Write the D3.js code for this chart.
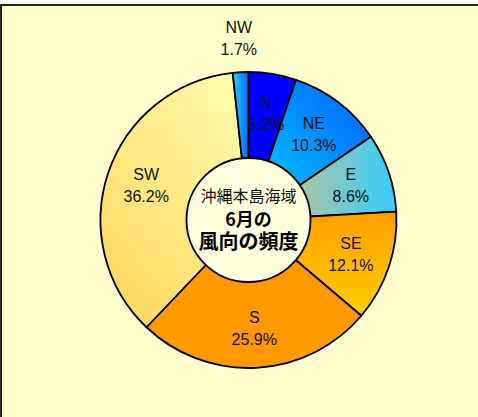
<!DOCTYPE html>
<html><head><meta charset="utf-8">
<script src="https://cdn.jsdelivr.net/npm/d3@7"></script>
<style>html,body{margin:0;padding:0;background:#fff;}svg{display:block;}</style>
</head><body>
<svg id="chart" width="478" height="417"></svg>
<script>
const categories = ["N", "NE", "E", "SE", "S", "SW", "NW"];
const values = [5.2, 10.3, 8.6, 12.1, 25.9, 36.2, 1.7];
const titleLines = ["沖縄本島海域", "6月の", "風向の頻度"];
// gradient stops per slice: [from, to]
const fillStops = [
  ["#0000FF", "#0000FF"],
  ["#00CCFF", "#0066FF"],
  ["#EAC274", "#33CCFF"],
  ["#FFA000", "#FFCC00"],
  ["#FF9900", "#FF9900"],
  ["#FFFBAA", "#FFD45C"],
  ["#33CCFF", "#0066FF"]
];
const gradDirs = [
  [0,0,1,0],
  [0.1,0.9,0.9,0.1],
  [0,0,1,0],
  [0,0,0,1],
  [0,0,1,0],
  [0.8,0,0.1,1],
  [0,0,1,0]
];

const svg = d3.select("#chart");
const W = 478, H = 417;
const cx = 248.5, cy = 220, R = 148, r0 = 62;

// frame
svg.append("rect").attr("x", 1).attr("y", 5).attr("width", W + 20).attr("height", H + 20)
  .attr("fill", "#FFFFCC").attr("stroke", "#222").attr("stroke-width", 2);

const defs = svg.append("defs");
categories.forEach((c, i) => {
  const g = defs.append("linearGradient").attr("id", "g" + i)
    .attr("x1", gradDirs[i][0]).attr("y1", gradDirs[i][1])
    .attr("x2", gradDirs[i][2]).attr("y2", gradDirs[i][3]);
  g.append("stop").attr("offset", "0%").attr("stop-color", fillStops[i][0]);
  g.append("stop").attr("offset", "100%").attr("stop-color", fillStops[i][1]);
});

const pie = d3.pie().sort(null).value(d => d).startAngle(0).endAngle(2 * Math.PI);
const arcs = pie(values);
const arc = d3.arc().innerRadius(0).outerRadius(R);
const labelArc = d3.arc().innerRadius(108).outerRadius(108);
const outerLabelArc = d3.arc().innerRadius(182).outerRadius(182);

const gp = svg.append("g").attr("transform", `translate(${cx},${cy})`);
gp.selectAll("path.slice").data(arcs).join("path")
  .attr("class", "slice")
  .attr("d", arc)
  .attr("fill", (d, i) => `url(#g${i})`)
  .attr("stroke", "#000").attr("stroke-width", 1.8).attr("stroke-linejoin", "round");

gp.append("circle").attr("r", r0).attr("fill", "#FFFFDD").attr("stroke", "#000").attr("stroke-width", 1.8);

const fontLatin = "'Liberation Sans', Arial, sans-serif";
arcs.forEach((d, i) => {
  const small = values[i] < 3;
  const [x, y] = small ? outerLabelArc.centroid(d) : labelArc.centroid(d);
  const t = gp.append("text").attr("text-anchor", "middle")
    .attr("font-family", fontLatin).attr("font-size", 16).attr("fill", "#111");
  t.append("tspan").attr("x", x).attr("y", y - 5).text(categories[i]);
  t.append("tspan").attr("x", x).attr("y", y + 17).text(values[i].toFixed(1) + "%");
});

const fontCJK = "'Noto Sans CJK JP', sans-serif";
gp.append("text").attr("text-anchor", "middle").attr("x", 0).attr("y", -18)
  .attr("font-family", fontCJK).attr("font-size", 16).attr("fill", "#111").text(titleLines[0]);
gp.append("text").attr("text-anchor", "middle").attr("x", 0).attr("y", 6)
  .attr("font-family", fontCJK).attr("font-size", 18).attr("font-weight", "bold").attr("fill", "#000").text(titleLines[1]);
gp.append("text").attr("text-anchor", "middle").attr("x", 0).attr("y", 29)
  .attr("font-family", fontCJK).attr("font-size", 20).attr("font-weight", "bold").attr("fill", "#000").text(titleLines[2]);
</script>
</body></html>
